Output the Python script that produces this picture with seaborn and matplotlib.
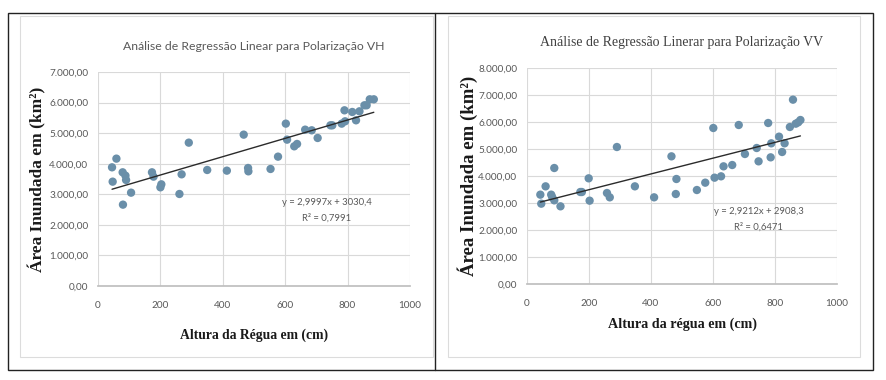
import numpy as np
import pandas as pd
import matplotlib
matplotlib.use("Agg")
import matplotlib.pyplot as plt
from matplotlib.patches import Rectangle
from matplotlib.lines import Line2D
from matplotlib.ticker import FuncFormatter
import seaborn as sns

# Dados: polarização VH
vh_altura = [45, 47, 59, 79, 80, 88, 90, 106, 173, 178, 200, 203, 261, 268, 291,
             350, 413, 467, 481, 482, 553, 577, 602, 606, 629, 638, 664, 685, 704,
             745, 751, 781, 792, 790, 815, 827, 838, 854, 861, 871, 884]
vh_area = [3882, 3413, 4166, 3719, 2661, 3610, 3468, 3053, 3719, 3577, 3228, 3326,
           3010, 3653, 4689, 3795, 3773, 4951, 3860, 3751, 3828, 4231, 5311, 4787,
           4569, 4646, 5114, 5093, 4842, 5256, 5256, 5311, 5387, 5747, 5692, 5420,
           5714, 5911, 5911, 6107, 6107]
vh_slope, vh_intercept, vh_r2 = 2.9997, 3030.4, 0.7991

# Dados: polarização VV
vv_altura = [43, 46, 60, 78, 81, 88, 88, 108, 172, 177, 199, 202, 258, 267, 290,
             348, 410, 466, 480, 482, 548, 575, 601, 605, 626, 634, 662, 683, 703,
             741, 747, 778, 788, 786, 813, 823, 831, 848, 858, 867, 875, 882]
vv_area = [3309, 2975, 3617, 3309, 3222, 4296, 3099, 2877, 3407, 3407, 3914, 3086,
           3370, 3210, 5074, 3617, 3210, 4728, 3333, 3889, 3481, 3753, 5778, 3938,
           3988, 4358, 4407, 5889, 4815, 5037, 4543, 5963, 5210, 4691, 5457, 4889,
           5210, 5815, 6827, 5938, 5988, 6074]
vv_slope, vv_intercept, vv_r2 = 2.9212, 2908.3, 0.6471

sns.set_theme(style="white")
plt.rcParams['font.family'] = ['Lato', 'DejaVu Sans']

dot_color = '#6a8fa9'
grid_color = '#d9d9d9'
text_gray = '#595959'
serif = ['Liberation Serif', 'DejaVu Serif']


def br_num(v, pos):
    s = f"{v:,.2f}"
    return s.replace(',', 'X').replace('.', ',').replace('X', '.')


def br_dec(v, nd):
    return f"{v:.{nd}f}".replace('.', ',')


fig = plt.figure(figsize=(8.87, 3.8), dpi=100)

# molduras
W, H = 887, 380


def rect(x0, y0, x1, y1, color, lw):
    fig.add_artist(Rectangle((x0 / W, 1 - y1 / H), (x1 - x0) / W, (y1 - y0) / H,
                             fill=False, edgecolor=color, linewidth=lw,
                             transform=fig.transFigure))


rect(20, 16, 433, 357, '#dcdcdc', 0.8)
rect(448, 16, 860, 357, '#dcdcdc', 0.8)
rect(8, 13, 873, 370, '#222222', 1.0)
fig.add_artist(Line2D([435 / W, 435 / W], [1 - 13 / H, 1 - 370 / H],
                      color='#222222', linewidth=1.0, transform=fig.transFigure))

panels = [
    dict(pos=[98 / W, 1 - 286 / H, 312 / W, 214 / H], x=vh_altura, y=vh_area,
         slope=vh_slope, inter=vh_intercept, r2=vh_r2, ymax=7000,
         title="Análise de Regressão Linear para Polarização VH",
         tfont=['Lato', 'DejaVu Sans'], tsize=8.8, tcolor=text_gray,
         xlabel="Altura da Régua em (cm)", xsize=9.8, ysize=12.5, xlpad=13,
         ylpad=2, eq=(734, 2470)),
    dict(pos=[527 / W, 1 - 284 / H, 310 / W, 216 / H], x=vv_altura, y=vv_area,
         slope=vv_slope, inter=vv_intercept, r2=vv_r2, ymax=8000,
         title="Análise de Regressão Linerar para Polarização VV",
         tfont=serif, tsize=10, tcolor='#404040',
         xlabel="Altura da régua em (cm)", xsize=10.2, ysize=13.5, xlpad=7,
         ylpad=0, eq=(748, 2390)),
]

for p in panels:
    ax = fig.add_axes(p['pos'])
    df = pd.DataFrame({'altura': p['x'], 'area': p['y']})
    sns.scatterplot(data=df, x='altura', y='area', ax=ax, color=dot_color,
                    s=36, edgecolor='none', zorder=3)
    xs = np.array([min(p['x']), max(p['x'])])
    sns.lineplot(x=xs, y=p['slope'] * xs + p['inter'], ax=ax, color='#2b2b2b',
                 linewidth=1.0, zorder=4)
    ax.set_xlim(0, 1000)
    ax.set_ylim(0, p['ymax'])
    ax.set_xticks(range(0, 1001, 200))
    ax.set_yticks(range(0, p['ymax'] + 1, 1000))
    ax.yaxis.set_major_formatter(FuncFormatter(br_num))
    ax.grid(True, color=grid_color, linewidth=0.8)
    for s in ['top', 'right', 'left']:
        ax.spines[s].set_visible(False)
    ax.spines['bottom'].set_color('#bfbfbf')
    ax.tick_params(axis='both', labelsize=7.2, colors=text_gray, length=0)
    ax.tick_params(axis='y', pad=7)
    ax.tick_params(axis='x', pad=11)
    ax.set_title(p['title'], fontsize=p['tsize'], color=p['tcolor'],
                 family=p['tfont'], pad=16)
    ax.set_xlabel(p['xlabel'], family=serif, fontweight='bold', fontsize=p['xsize'],
                  color='#1a1a1a', labelpad=p['xlpad'])
    ax.set_ylabel("Área Inundada em (km²)", family=serif, fontweight='bold',
                  fontsize=p['ysize'], color='#1a1a1a', labelpad=p['ylpad'])
    ex, ey = p['eq']
    ax.text(ex, ey, f"y = {br_dec(p['slope'], 4)}x + {br_dec(p['inter'], 1)}\n"
            f"R² = {br_dec(p['r2'], 4)}", ha='center', va='center',
            fontsize=6.8, color=text_gray, linespacing=1.8)

fig.savefig("out.png", dpi=100)
